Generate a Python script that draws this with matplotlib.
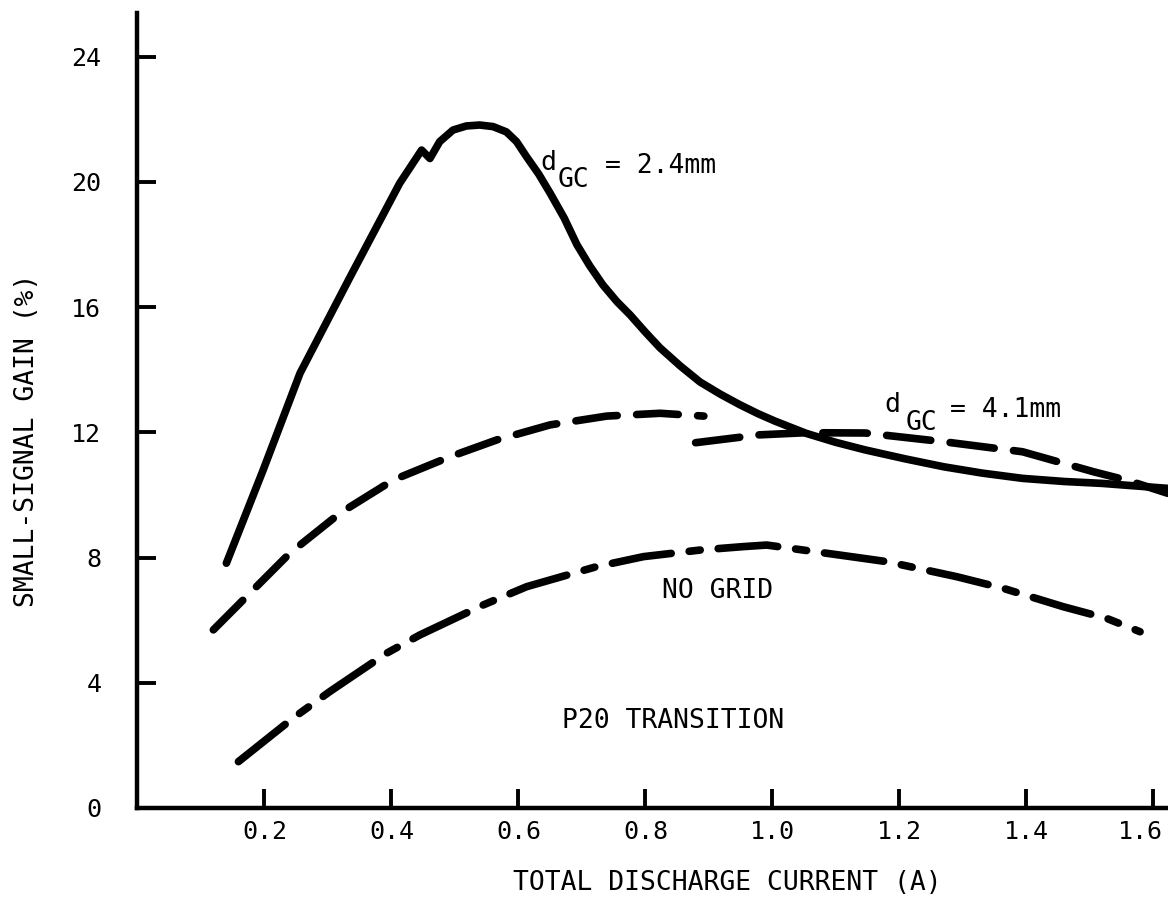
import matplotlib
matplotlib.use("Agg")
import matplotlib.pyplot as plt
import matplotlib.transforms as mtransforms

plt.rcParams['font.family'] = ['DejaVu Sans Mono', 'DejaVu Sans']
plt.rcParams['lines.scale_dashes'] = False

# d_GC = 2.4mm (solid)
x_24 = [0.140, 0.198, 0.256, 0.335, 0.413, 0.4475, 0.4606, 0.476, 0.497, 0.518, 0.539,
        0.560, 0.581, 0.597, 0.613, 0.632, 0.650, 0.672, 0.692, 0.712, 0.733, 0.755,
        0.776, 0.800, 0.823, 0.855, 0.886, 0.918, 0.949, 0.977, 1.004, 1.053, 1.100,
        1.146, 1.210, 1.270, 1.330, 1.394, 1.460, 1.519, 1.623]
y_24 = [7.82, 10.80, 13.89, 16.97, 19.96, 21.02, 20.75, 21.29, 21.66, 21.79, 21.82,
        21.77, 21.60, 21.29, 20.80, 20.25, 19.64, 18.85, 18.00, 17.33, 16.71, 16.18,
        15.75, 15.20, 14.70, 14.12, 13.61, 13.22, 12.88, 12.60, 12.36, 11.97, 11.68,
        11.44, 11.15, 10.90, 10.70, 10.53, 10.43, 10.37, 10.21]

# upper dashed curve, low-current part
x_41a = [0.1195, 0.177, 0.240, 0.319, 0.403, 0.492, 0.566, 0.650, 0.739, 0.823, 0.892]
y_41a = [5.69, 6.86, 8.14, 9.42, 10.48, 11.22, 11.76, 12.24, 12.52, 12.61, 12.52]

# d_GC = 4.1mm (dashed, high-current part)
x_41b = [0.879, 0.979, 1.053, 1.146, 1.270, 1.394, 1.506, 1.562, 1.623]
y_41b = [11.67, 11.92, 11.99, 11.98, 11.70, 11.38, 10.74, 10.45, 10.05]

# no grid
x_ng = [0.159, 0.245, 0.303, 0.392, 0.445, 0.545, 0.613, 0.723, 0.797, 0.886, 0.954,
        0.991, 1.106, 1.180, 1.290, 1.363, 1.458, 1.526, 1.579]
y_ng = [1.48, 2.87, 3.72, 4.94, 5.53, 6.49, 7.07, 7.71, 8.03, 8.24, 8.35,
        8.40, 8.08, 7.87, 7.39, 7.02, 6.43, 6.06, 5.63]

xticks = [0.2, 0.4, 0.6, 0.8, 1.0, 1.2, 1.4, 1.6]
xticklabels = ["0.2", "0.4", "0.6", "0.8", "1.0", "1.2", "1.4", "1.6"]
yticks = [0, 4, 8, 12, 16, 20, 24]

fig = plt.figure(figsize=(11.68, 9.07), dpi=100)
ax = fig.add_axes([0.1177, 0.1092, 0.8823, 0.8765])

ax.plot(x_24, y_24, color="black", lw=5.5, solid_capstyle="round", solid_joinstyle="round")
ax.plot(x_41a, y_41a, color="black", lw=5.5, dashes=(30, 14), dash_capstyle="round")
ax.plot(x_41b, y_41b, color="black", lw=5.5, dashes=(32, 14), dash_capstyle="round")
ax.plot(x_ng, y_ng, color="black", lw=5.5, dashes=(43, 13, 8, 13), dash_capstyle="round")

ax.set_xlim(0, 1.623)
ax.set_ylim(0, 25.4)

for s in ["top", "right"]:
    ax.spines[s].set_visible(False)
for s in ["left", "bottom"]:
    ax.spines[s].set_linewidth(3.2)

ax.set_xticks(xticks)
ax.set_xticklabels(xticklabels)
ax.set_yticks(yticks)
ax.tick_params(axis="both", direction="in", length=14, width=2.8, labelsize=18)
ax.tick_params(axis="y", pad=26)
ax.tick_params(axis="x", pad=9)

# last x label sits against the right edge
last = ax.get_xticklabels()[-1]
last.set_transform(last.get_transform() + mtransforms.ScaledTranslation(-9 / 72, 0, fig.dpi_scale_trans))

ax.set_xlabel("TOTAL DISCHARGE CURRENT (A)", fontsize=19)
ax.xaxis.set_label_coords(0.572, -0.078)
ax.set_ylabel("SMALL-SIGNAL GAIN (%)", fontsize=19)
ax.yaxis.set_label_coords(-0.095, 0.462)

fs = 19
ax.text(0.634, 20.38, "d", fontsize=fs, va="baseline")
ax.text(0.662, 19.84, "GC", fontsize=fs, va="baseline")
ax.text(0.736, 20.29, "= 2.4mm", fontsize=fs, va="baseline")

ax.text(1.177, 12.65, "d", fontsize=fs, va="baseline")
ax.text(1.209, 12.08, "GC", fontsize=fs, va="baseline")
ax.text(1.280, 12.49, "= 4.1mm", fontsize=fs, va="baseline")

ax.text(0.826, 6.71, "NO GRID", fontsize=fs, va="baseline")
ax.text(0.668, 2.56, "P20 TRANSITION", fontsize=fs, va="baseline")

fig.savefig("out.png", dpi=100)
